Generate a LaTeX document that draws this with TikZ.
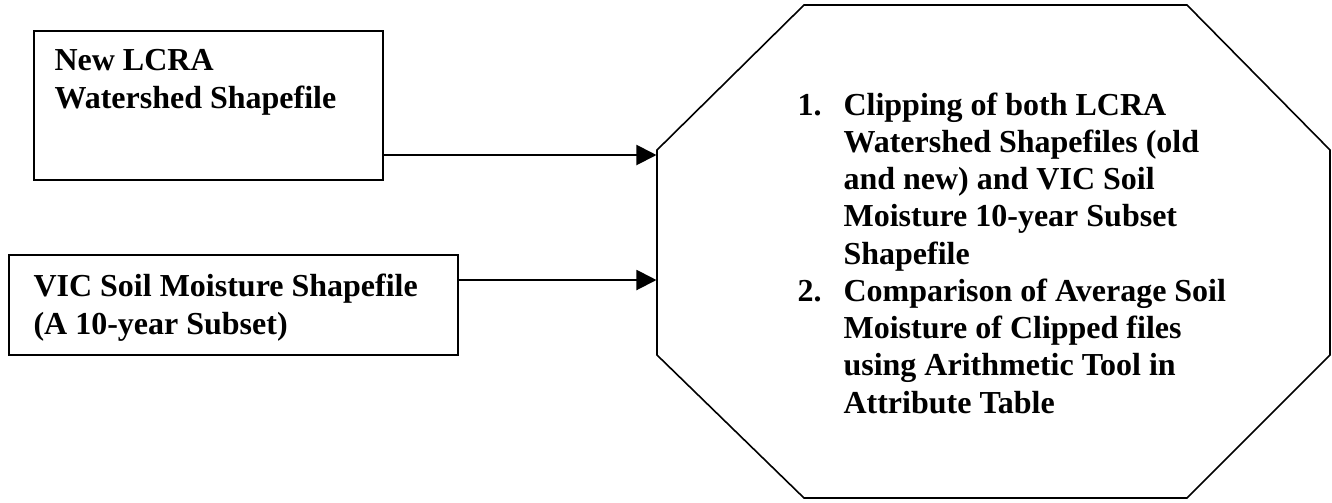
\documentclass[tikz,border=0pt]{standalone}
\usepackage{fontspec}
\setmainfont{Liberation Serif}
\usetikzlibrary{arrows.meta,fit}
\begin{document}
\begin{tikzpicture}[x=0.375pt,y=-0.375pt,
  boxframe/.style={draw, line width=0.75pt, inner sep=0pt},
  labeltext/.style={font=\fontsize{12}{13.95}\selectfont\bfseries, align=left, anchor=base west, inner sep=0pt},
  flow/.style={line width=0.75pt, -{Triangle[length=7.5pt,width=7.5pt]}},
  octline/.style={line width=0.6pt, line join=miter}]
\useasboundingbox (0,0) rectangle (1332,502);
% input boxes (base anchor = baseline of the last line)
\node[boxframe, fit={(34,31) (383,180)}] (box1) {};
\node[labeltext] (t1) at (54,108) {New LCRA\\Watershed Shapefile};
\node[boxframe, fit={(9,255) (458,355)}] (box2) {};
\node[labeltext] (t2) at (33,334) {VIC Soil Moisture Shapefile\\(A 10-year Subset)};
% octagon
\node[fit={(657,5) (1330,498)}, inner sep=0pt] (oct) {};
\draw[octline] (657,150) -- (804,5) -- (1187,5) -- (1330,150) -- (1330,355)
  -- (1187,498) -- (804,498) -- (657,355) -- cycle;
\node[labeltext] (n1) at (797,115) {1.};
\node[labeltext] (i1) at (843,264) {Clipping of both LCRA\\Watershed Shapefiles (old\\and new) and VIC Soil\\Moisture 10-year Subset\\Shapefile};
\node[labeltext] (n2) at (797,301) {2.};
\node[labeltext] (i2) at (843,413) {Comparison of Average Soil\\Moisture of Clipped files\\using Arithmetic Tool in\\Attribute Table};
% connectors
\coordinate (y1) at (0,155);
\coordinate (y2) at (0,280);
\draw[flow] (box1.east |- y1) -- (oct.west |- y1);
\draw[flow] (box2.east |- y2) -- (oct.west |- y2);
\end{tikzpicture}
\end{document}
